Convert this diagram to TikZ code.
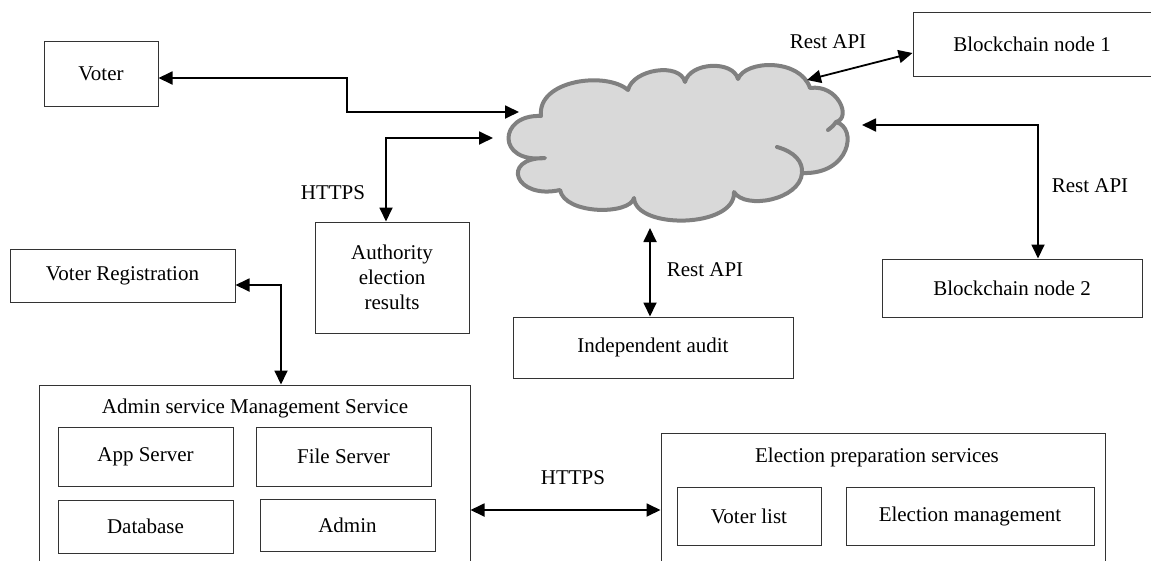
\documentclass[tikz,border=0pt]{standalone}
\usepackage{fontspec}
\setmainfont{Liberation Serif}
\usetikzlibrary{arrows.meta}
\definecolor{cloudfill}{HTML}{D9D9D9}
\definecolor{cloudline}{HTML}{808080}
\begin{document}
\begin{tikzpicture}[x=1pt,y=-1pt,
  box/.style={draw=black!80, line width=1pt, inner sep=0pt, align=center,
    font=\fontsize{21}{25}\selectfont},
  lbl/.style={inner sep=0pt, font=\fontsize{21}{25}\selectfont},
  biarrow/.style={line width=1.8pt, line join=miter,
    {Triangle[length=14pt,width=13pt]}-{Triangle[length=14pt,width=13pt]}},
]
\clip (0,0) rectangle (1151,560);
\fill[white] (0,0) rectangle (1151,560);

% network cloud
\filldraw[fill=cloudfill, draw=cloudline, line width=4pt, line join=round]
  (541,116) .. controls (537,80) and (606,71) .. (628,90)
  .. controls (633,69) and (680,62) .. (685,82)
  .. controls (690,62) and (733,60) .. (738,79)
  .. controls (745,60) and (800,58) .. (810,88)
  .. controls (838,84) and (852,118) .. (836,122)
  .. controls (858,128) and (850,175) .. (802,173)
  .. controls (800,200) and (745,210) .. (734,192)
  .. controls (736,228) and (636,230) .. (634,198)
  .. controls (630,215) and (565,215) .. (560,190)
  .. controls (515,200) and (500,158) .. (545,158)
  .. controls (496,164) and (498,114) .. (541,116) -- cycle;
\draw[cloudline, line width=4pt, line cap=round]
  (777,147) .. controls (795,152) and (803,162) .. (802,173);
\draw[cloudline, line width=4pt, line cap=round]
  (836,122) .. controls (833,126) .. (828,130);

\coordinate (cw1) at (519,112);
\coordinate (cw2) at (493,138);
\coordinate (cne) at (807,80);
\coordinate (ce)  at (862,125);
\coordinate (cs)  at (650,228);

% stand-alone boxes
\node[box, minimum width=114pt, minimum height=65pt] (voter) at (101,73.5) {Voter};
\node[box, minimum width=238pt, minimum height=64pt] (bc1) at (1032,44) {Blockchain node 1};
\node[box, minimum width=260pt, minimum height=58pt] (bc2) at (1012,288) {Blockchain node 2};
\node[box, minimum width=154pt, minimum height=111pt] (auth) at (392,277.5) {Authority\\election\\results};
\node[box, minimum width=225pt, minimum height=53pt] (vreg) at (122.5,275.5) {Voter Registration};
\node[box, minimum width=280pt, minimum height=61pt] (audit) at (653,347.5) {Independent audit};

% admin service group
\node[box, minimum width=431pt, minimum height=200pt] (admin) at (254.5,485) {};
\node[lbl] (admintitle) at (255,408) {Admin service Management Service};
\node[box, minimum width=175pt, minimum height=59pt] (app) at (145.5,456.5) {App Server};
\node[box, minimum width=175pt, minimum height=59pt] (file) at (343.5,456.5) {File Server};
\node[box, minimum width=175pt, minimum height=53pt] (db) at (145.5,526.5) {Database};
\node[box, minimum width=175pt, minimum height=52pt] (adm) at (347.5,525) {Admin};

% election preparation group
\node[box, minimum width=444pt, minimum height=150pt] (elec) at (883,508) {};
\node[lbl] (electitle) at (877,457) {Election preparation services};
\node[box, minimum width=144pt, minimum height=58pt] (vlist) at (749,516) {Voter list};
\node[box, minimum width=248pt, minimum height=58pt] (emgmt) at (970,516) {Election management};

% connectors
\draw[biarrow] (voter.east |- 0,78) -- (347,78) |- (cw1);
\draw[biarrow] ([xshift=-6pt]auth.north) |- (cw2);
\draw[biarrow] (cne) -- (bc1.west |- 0,53);
\draw[biarrow] (ce) -| ([xshift=26pt]bc2.north);
\draw[biarrow] (cs) -- (audit.north -| cs);
\draw[biarrow] (vreg.east |- 0,285) -| (admin.north -| 281,0);
\draw[biarrow] (admin.east |- 0,510) -- (elec.west |- 0,510);

% connector labels
\node[lbl] (l1) at (333,193) {HTTPS};
\node[lbl] (l2) at (828,42) {Rest API};
\node[lbl] (l3) at (1090,186) {Rest API};
\node[lbl] (l4) at (705,270) {Rest API};
\node[lbl] (l5) at (573,478) {HTTPS};
\end{tikzpicture}
\end{document}
